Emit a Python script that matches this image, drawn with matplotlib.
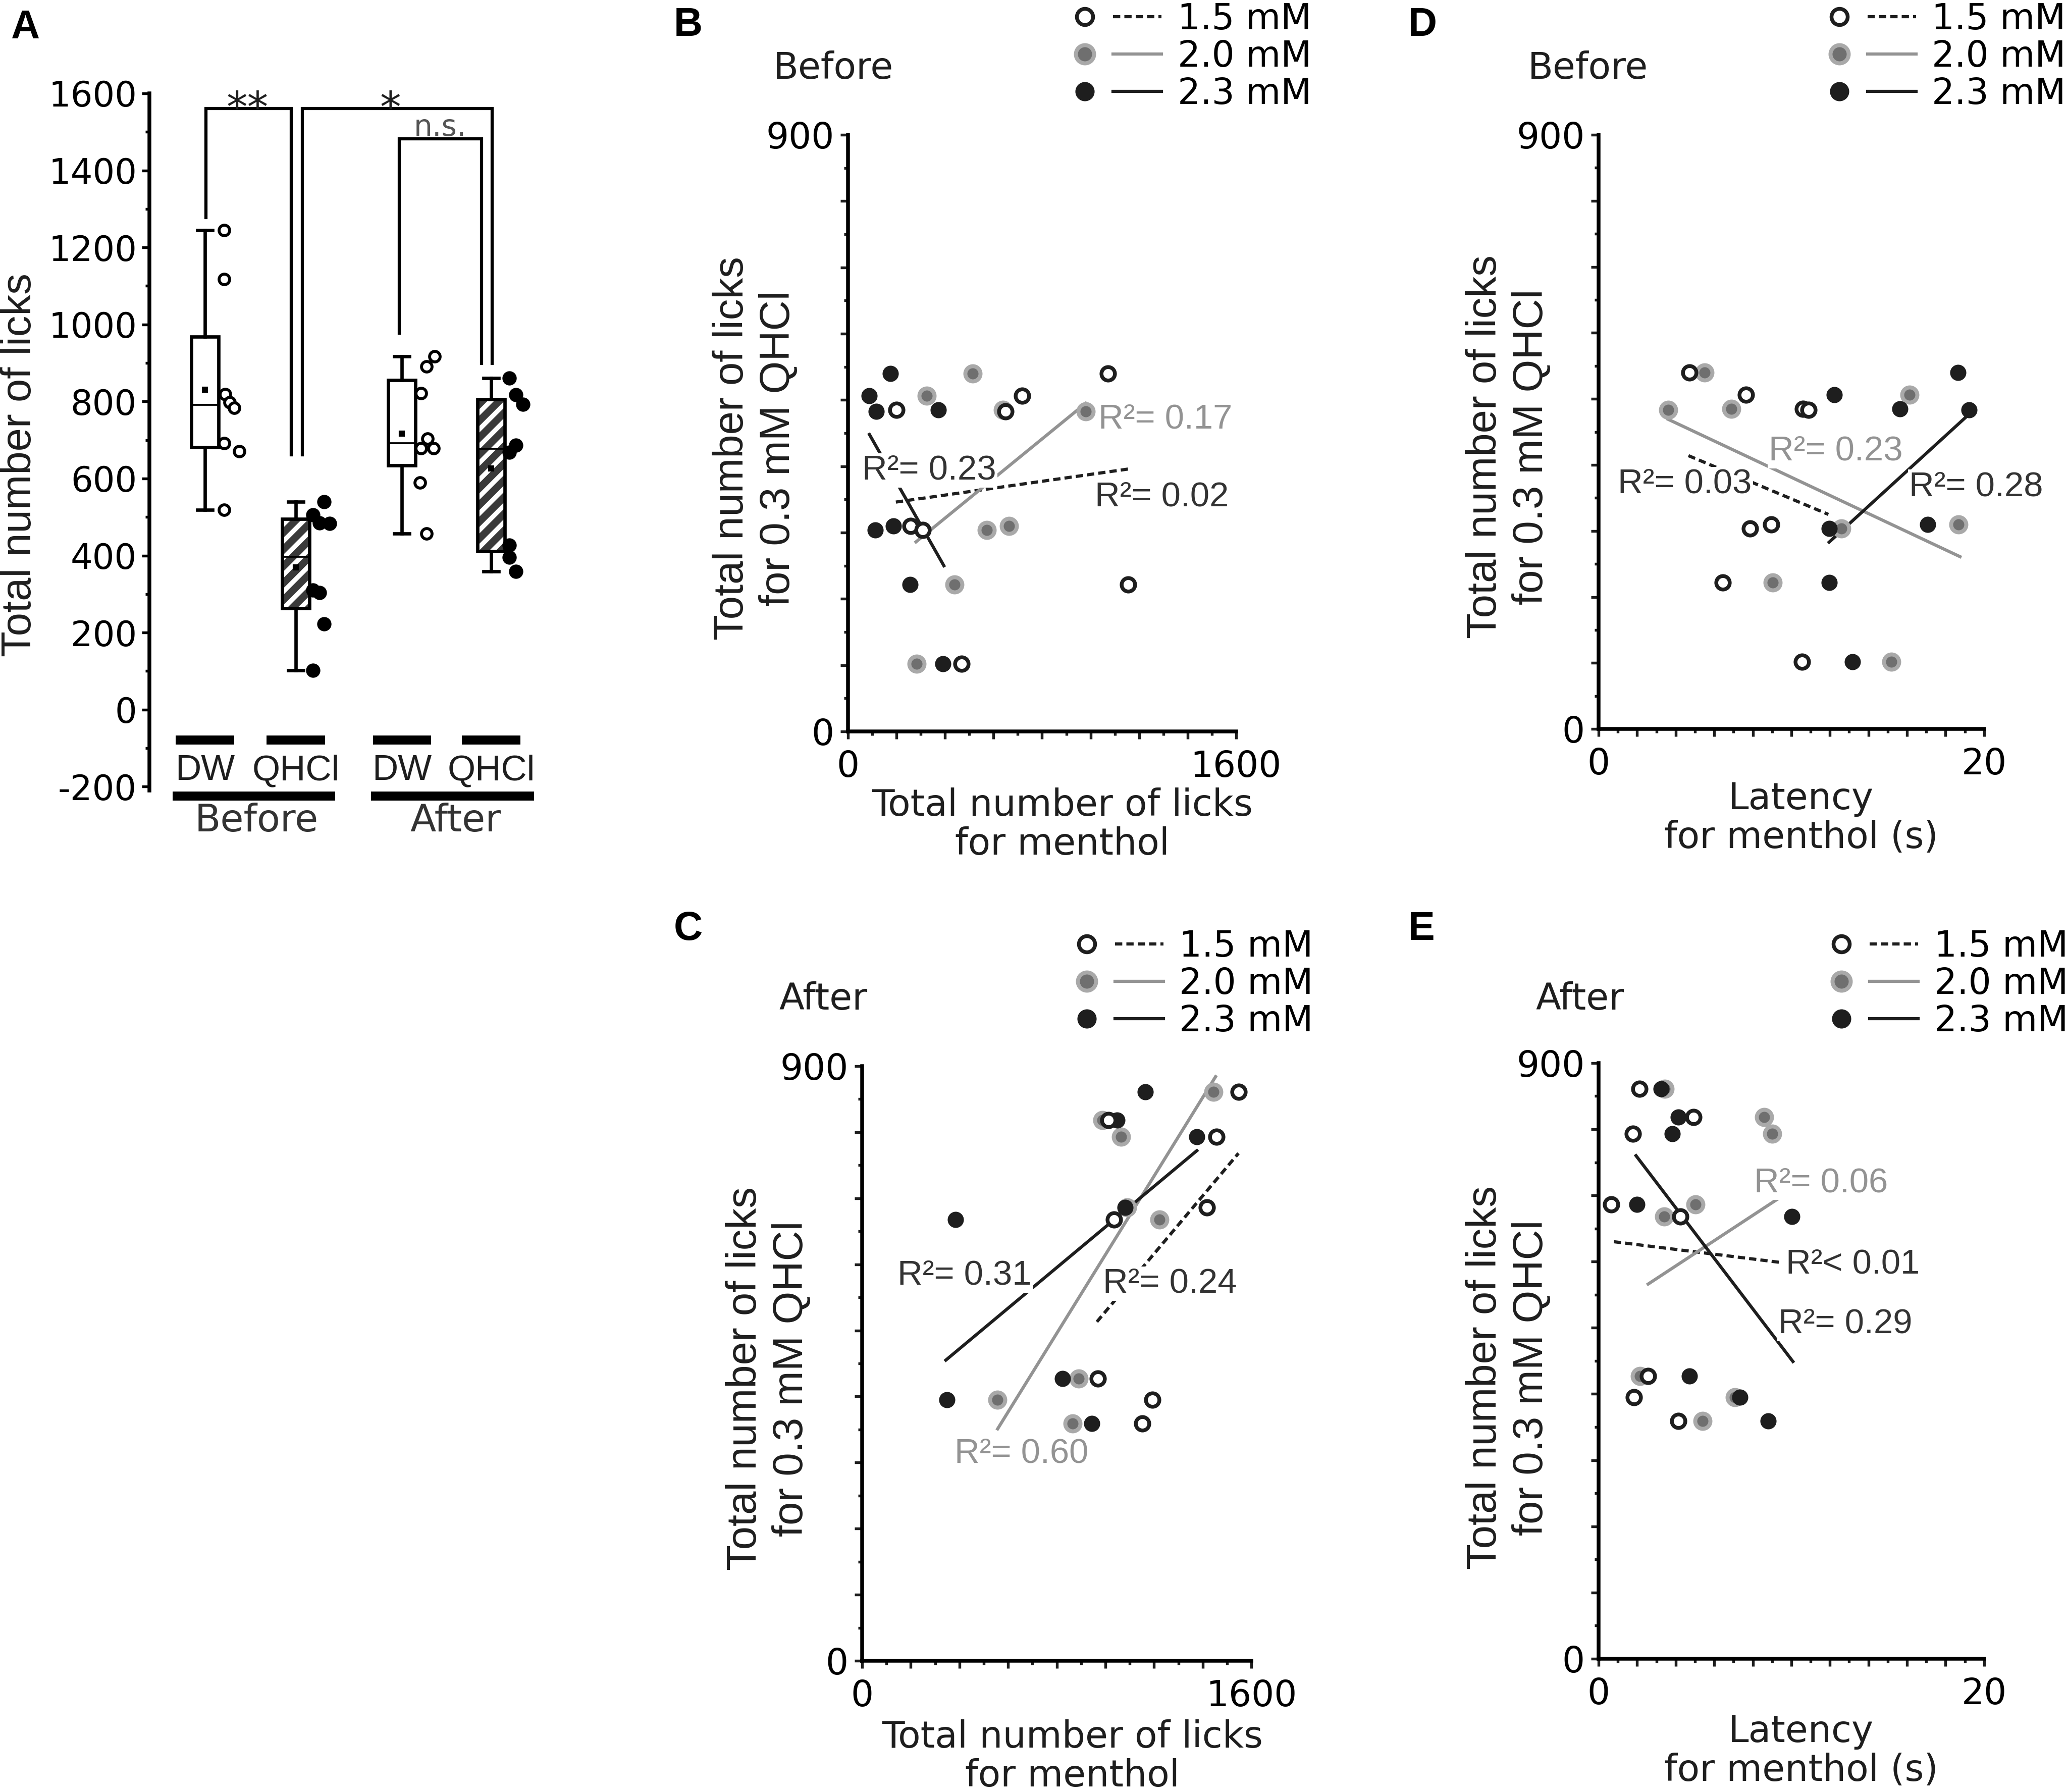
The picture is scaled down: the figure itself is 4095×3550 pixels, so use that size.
import numpy as np
import matplotlib
matplotlib.use('Agg')
import matplotlib.pyplot as plt
from matplotlib.lines import Line2D
from matplotlib.patches import PathPatch
from matplotlib.legend_handler import HandlerTuple
from matplotlib.ticker import MultipleLocator, FuncFormatter

plt.rcParams['font.family'] = 'DejaVu Sans'
plt.rcParams['axes.unicode_minus'] = False
plt.rcParams['hatch.color'] = 'white'
plt.rcParams['hatch.linewidth'] = 2.2

ARIAL = 'Liberation Sans'
INK = '#1e1e1e'
GREY = '#939393'

# ---- panel A: total licks of the 8 mice
box_labels = ['DW', 'QHCl', 'DW', 'QHCl']
phase_labels = ['Before', 'After']
dw_before = [1245, 1117, 819, 798, 784, 692, 671, 519]
qhcl_before = [540, 506, 485, 483, 310, 304, 222, 102]
dw_after = [917, 891, 821, 704, 678, 678, 589, 457]
qhcl_after = [861, 818, 793, 686, 668, 427, 395, 359]
# horizontal scatter of the dots next to each box
jit_dw_before = [0.21, 0.21, 0.22, 0.27, 0.32, 0.21, 0.38, 0.21]
jit_qhcl_before = [0.31, 0.19, 0.26, 0.37, 0.19, 0.26, 0.31, 0.19]
jit_dw_after = [0.36, 0.27, 0.21, 0.28, 0.21, 0.35, 0.20, 0.27]
jit_qhcl_after = [0.20, 0.27, 0.35, 0.27, 0.20, 0.20, 0.20, 0.27]

# ---- panels B-E: menthol licks / latency vs QHCl licks
conc_labels = ['1.5 mM', '2.0 mM', '2.3 mM']
menthol_before_15 = [1072, 717, 200, 650, 258, 308, 1155, 467]
menthol_before_20 = [513, 325, 638, 980, 663, 572, 438, 283]
menthol_before_23 = [175, 88, 372, 117, 188, 113, 255, 392]
latency_before_15 = [4.70, 7.64, 10.6, 10.9, 8.96, 7.85, 6.45, 10.54]
latency_before_20 = [5.49, 16.14, 6.89, 3.61, 18.68, 12.59, 9.04, 15.2]
latency_before_23 = [18.64, 12.23, 15.62, 19.23, 17.08, 11.96, 11.96, 13.17]
menthol_after_15 = [1547, 1012, 1456, 1418, 1035, 968, 1193, 1151]
menthol_after_20 = [1444, 987, 1065, 1090, 1223, 890, 557, 865]
menthol_after_23 = [1165, 1048, 1376, 1080, 383, 824, 349, 945]
latency_after_15 = [2.11, 4.91, 1.77, 0.65, 4.24, 2.57, 1.84, 4.13]
latency_after_20 = [3.44, 8.58, 9.0, 5.03, 3.40, 2.15, 7.06, 5.39]
latency_after_23 = [3.24, 4.13, 3.82, 1.98, 10.04, 4.72, 7.33, 8.79]

# regression lines as drawn (end points)
fit_b = [([197, 1158], [346, 396]), ([280, 980], [286, 495]), ([88, 395], [448, 250])]
fit_d = [([4.66, 11.92], [414, 325]), ([3.61, 18.75], [469, 261]), ([11.96, 19.23], [283, 477])]
fit_c = [([965, 1547], [513, 768]), ([557, 1453], [351, 884]), ([344, 1376], [455, 772])]
fit_e = [([0.79, 9.35], [630, 599]), ([2.57, 9.42], [566, 697]), ([1.94, 10.08], [760, 449])]
r2_b = ['0.02', '0.17', '0.23']
r2_d = ['0.03', '0.23', '0.28']
r2_c = ['0.24', '0.60', '0.31']
r2_e = ['< 0.01', '= 0.06', '= 0.29']

MARKS = [dict(marker='o', ms=6.4, mfc='white', mec=INK, mew=1.8),
         dict(marker='o', ms=7.2, mfc='#6f6f6f', mec='#a9a9a9', mew=1.9),
         dict(marker='o', ms=7.2, mfc=INK, mec=INK, mew=0.5)]
LINES = [dict(color=INK, lw=1.5, ls=(0, (2.3, 1.3))),
         dict(color=GREY, lw=1.5, ls='-'),
         dict(color=INK, lw=1.5, ls='-')]


def hinge_stats(vals):
    v = np.sort(np.asarray(vals, dtype=float))
    h = len(v) // 2
    return dict(med=np.median(v), q1=np.median(v[:h]), q3=np.median(v[len(v) - h:]),
                whislo=v.min(), whishi=v.max(), mean=v.mean())


def end_labels(vmax):
    def fmt(v, pos):
        if np.isclose(v, 0) or np.isclose(v, vmax):
            return '%g' % v
        return ''
    return FuncFormatter(fmt)


def scatter_panel(ax, xs, ys, fits, notes, xmax, xmajor, xminor):
    for k in (1, 2, 0):
        ax.plot(xs[k], ys, ls='none', zorder=4, clip_on=False, **MARKS[k])
    for k in range(3):
        ax.plot(fits[k][0], fits[k][1], zorder=2, **LINES[k])
    for txt, tx, ty, col in notes:
        ax.text(tx, ty, txt, color=col, ha='left', va='center', fontsize=16.5,
                family=ARIAL, zorder=3,
                bbox=dict(facecolor='white', edgecolor='none', pad=0.5))
    ax.set_xlim(0, xmax)
    ax.set_ylim(0, 900)
    for s in ('top', 'right'):
        ax.spines[s].set_visible(False)
    for s in ('left', 'bottom'):
        ax.spines[s].set_linewidth(1.8)
    ax.xaxis.set_major_locator(MultipleLocator(xmajor))
    ax.xaxis.set_minor_locator(MultipleLocator(xminor))
    ax.yaxis.set_major_locator(MultipleLocator(100))
    ax.yaxis.set_minor_locator(MultipleLocator(50))
    ax.xaxis.set_major_formatter(end_labels(xmax))
    ax.yaxis.set_major_formatter(end_labels(900))
    ax.tick_params(which='major', length=3.6, width=1.3, labelsize=17, color=INK)
    ax.tick_params(which='minor', length=1.9, width=1.3, color=INK)
    ax.tick_params(axis='x', which='major', pad=5)
    ax.tick_params(axis='y', which='major', pad=3)


def add_legend(fig, x0, y0):
    handles = [(Line2D([], [], ls='none', **MARKS[k]), Line2D([], [], **LINES[k]))
               for k in range(3)]
    fig.legend(handles, conc_labels, loc='upper left', bbox_to_anchor=(x0, y0),
               bbox_transform=fig.transFigure, frameon=False, fontsize=17,
               handlelength=2.82, handletextpad=0.45, labelspacing=0.07,
               borderpad=0, borderaxespad=0, markerscale=1.2,
               handler_map={tuple: HandlerTuple(ndivide=None, pad=0.113)})


fig = plt.figure(figsize=(4095 / 300, 3550 / 300), dpi=300)

# ---------------- panel A ----------------
axA = fig.add_axes([0.0723, 0.5589, 0.1873, 0.3890])
box_pos = [1, 2, 3.167, 4.15]
groups = [dw_before, qhcl_before, dw_after, qhcl_after]
jits = [jit_dw_before, jit_qhcl_before, jit_dw_after, jit_qhcl_after]
bp = axA.bxp([hinge_stats(g) for g in groups], positions=box_pos, widths=0.30,
             capwidths=0.17, patch_artist=True, showmeans=True, showfliers=False,
             boxprops=dict(linewidth=1.6, edgecolor='black', facecolor='white'),
             whiskerprops=dict(linewidth=1.6, color='black'),
             capprops=dict(linewidth=1.6, color='black'),
             medianprops=dict(linewidth=0.9, color='black'),
             meanprops=dict(marker='s', ms=1.8, mfc='black', mec='black'))
for i in (1, 3):
    box = bp['boxes'][i]
    box.set_facecolor('#3a3a3a')
    box.set_edgecolor('white')
    box.set_hatch('///')
    box.set_linewidth(0)
    axA.add_patch(PathPatch(box.get_path(), transform=box.get_transform(), fill=False,
                            edgecolor='black', linewidth=1.6, zorder=box.get_zorder() + 0.1))
for ln in bp['medians'] + bp['means']:
    ln.set_zorder(3)

for i, (g, j) in enumerate(zip(groups, jits)):
    xs = box_pos[i] + np.asarray(j)
    if i % 2 == 0:
        axA.plot(xs, g, ls='none', marker='o', ms=5.0, mfc='white', mec='black',
                 mew=1.4, zorder=4, clip_on=False)
    else:
        axA.plot(xs, g, ls='none', marker='o', ms=6.4, mfc='black', mec='black',
                 mew=0.4, zorder=4, clip_on=False)

axA.set_xlim(0.389, 4.65)
axA.set_ylim(-210, 1600)
for s in ('top', 'right', 'bottom'):
    axA.spines[s].set_visible(False)
axA.spines['left'].set_linewidth(1.8)
axA.set_xticks([])
axA.yaxis.set_major_locator(MultipleLocator(200))
axA.yaxis.set_minor_locator(MultipleLocator(100))
axA.tick_params(which='major', length=3.6, width=1.3, labelsize=16.5, pad=2.4)
axA.tick_params(which='minor', length=1.9, width=1.3)

# group bars and labels under the boxes
for p, lab in zip(box_pos, box_labels):
    axA.plot([p - 0.32, p + 0.32], [-79, -79], color='black', lw=4.3,
             solid_capstyle='butt', clip_on=False)
    axA.text(p, -159, lab, ha='center', va='center', fontsize=17, family=ARIAL,
             color=INK, clip_on=False)
for (x0, x1), xc, lab in zip([(0.644, 2.433), (2.828, 4.622)], [1.57, 3.76], phase_labels):
    axA.plot([x0, x1], [-225, -225], color='black', lw=4.3, solid_capstyle='butt',
             clip_on=False)
    axA.text(xc, -290, lab, ha='center', va='center', fontsize=18, color='#333333',
             clip_on=False)

# significance brackets
brackets = [([1.01, 1.01, 1.948, 1.948], [1278, 1560, 1560, 661], '**', 1.47, 1527, 20, INK),
            ([2.073, 2.073, 4.16, 4.16], [661, 1560, 1560, 899], '*', 3.04, 1527, 20, INK),
            ([3.14, 3.14, 4.043, 4.043], [977, 1482, 1482, 899], 'n.s.', 3.59, 1490, 14,
             '#555555')]
for bx, by, lab, tx, ty, fs, col in brackets:
    axA.plot(bx, by, color='black', lw=1.5, solid_joinstyle='miter', clip_on=False)
    axA.text(tx, ty, lab, ha='center', va='baseline', fontsize=fs, color=col)

fig.text(0.0095, 0.7406, 'Total number of licks', rotation=90, ha='center', va='center',
         fontsize=20, family=ARIAL, color=INK)

# ---------------- panels B-E ----------------
ylab = 'Total number of licks\nfor 0.3 mM QHCl'

axB = fig.add_axes([0.4103, 0.5918, 0.1877, 0.3330])
scatter_panel(axB, [menthol_before_15, menthol_before_20, menthol_before_23], qhcl_before,
              fit_b, [('R\u00b2= ' + r2_b[0], 1017, 354, '#333333'),
                      ('R\u00b2= ' + r2_b[1], 1033, 471, GREY),
                      ('R\u00b2= ' + r2_b[2], 58, 394, '#333333')],
              1600, 200, 100)

axD = fig.add_axes([0.7734, 0.5932, 0.1865, 0.3316])
scatter_panel(axD, [latency_before_15, latency_before_20, latency_before_23], qhcl_before,
              fit_d, [('R\u00b2= ' + r2_d[0], 1.0, 371, '#333333'),
                      ('R\u00b2= ' + r2_d[1], 8.83, 421, GREY),
                      ('R\u00b2= ' + r2_d[2], 16.1, 367, '#333333')],
              20, 2, 1)

axC = fig.add_axes([0.4171, 0.0732, 0.1883, 0.3319])
scatter_panel(axC, [menthol_after_15, menthol_after_20, menthol_after_23], qhcl_after,
              fit_c, [('R\u00b2= ' + r2_c[0], 990, 571, '#333333'),
                      ('R\u00b2= ' + r2_c[1], 379, 314, GREY),
                      ('R\u00b2= ' + r2_c[2], 146, 583, '#333333')],
              1600, 200, 100)

axE = fig.add_axes([0.7734, 0.0744, 0.1865, 0.3324])
scatter_panel(axE, [latency_after_15, latency_after_20, latency_after_23], qhcl_after,
              fit_e, [('R\u00b2' + r2_e[0], 9.71, 596, '#333333'),
                      ('R\u00b2' + r2_e[1], 8.06, 719, GREY),
                      ('R\u00b2' + r2_e[2], 9.31, 506, '#333333')],
              20, 2, 1)

for (yx, yy), (xx, xy), xl in [((0.3653, 0.7499), (0.5140, 0.5397), 'Total number of licks\nfor menthol'),
                               ((0.7297, 0.7507), (0.8713, 0.5434), 'Latency\nfor menthol (s)'),
                               ((0.3717, 0.2307), (0.5189, 0.0197), 'Total number of licks\nfor menthol'),
                               ((0.7297, 0.2313), (0.8713, 0.0228), 'Latency\nfor menthol (s)')]:
    fig.text(yx, yy, ylab, rotation=90, ha='center', va='center', multialignment='center',
             fontsize=20, family=ARIAL, color=INK, linespacing=1.22)
    fig.text(xx, xy, xl, ha='center', va='center', multialignment='center',
             fontsize=17.5, color=INK, linespacing=1.1)

for x, y, t in [(0.3741, 0.9617, 'Before'), (0.7392, 0.9617, 'Before'),
                (0.3770, 0.4423, 'After'), (0.7429, 0.4423, 'After')]:
    fig.text(x, y, t, ha='left', va='center', fontsize=17.5, color=INK)

add_legend(fig, 0.5131, 0.9989)
add_legend(fig, 0.8781, 0.9989)
add_legend(fig, 0.5140, 0.4814)
add_legend(fig, 0.8791, 0.4814)

for x, y, t in [(0.0051, 0.9845, 'A'), (0.326, 0.9859, 'B'), (0.6813, 0.9859, 'D'),
                (0.326, 0.4814, 'C'), (0.6813, 0.4814, 'E')]:
    fig.text(x, y, t, ha='left', va='center', fontsize=19, fontweight='bold', family=ARIAL)

fig.savefig('out.png', dpi=300, facecolor='white')
